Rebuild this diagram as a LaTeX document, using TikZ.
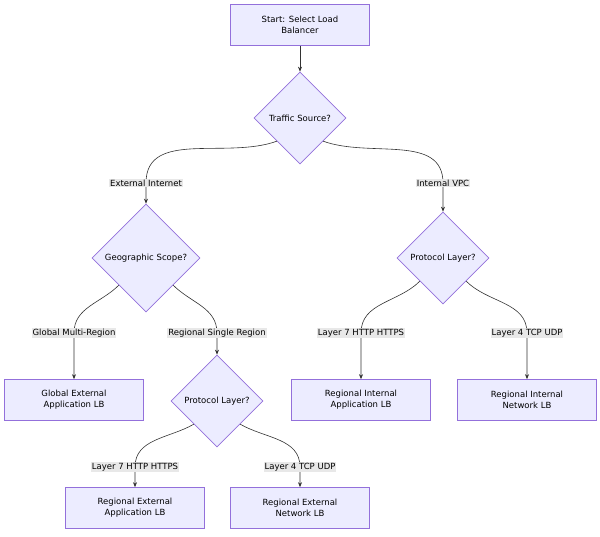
\documentclass[tikz,border=0pt]{standalone}
\usepackage{fontspec}
\setmainfont{DejaVu Sans}
\usetikzlibrary{shapes.geometric,arrows.meta}
\definecolor{boxfill}{HTML}{ECECFF}
\definecolor{boxline}{HTML}{9370DB}
\definecolor{edgeline}{HTML}{333333}
\definecolor{lblfill}{HTML}{E8E8E8}

\tikzset{
  box/.style   ={rectangle, fill=boxfill, draw=boxline, line width=0.7pt, minimum width=139pt, minimum height=41pt, align=center, inner sep=2pt},
  choice/.style={diamond, fill=boxfill, draw=boxline, line width=0.7pt, inner sep=0pt, minimum size=#1},
  edge/.style  ={-{Stealth[length=5pt,width=4pt]}, draw=edgeline, line width=0.6pt},
  lbl/.style   ={fill=lblfill, inner sep=1pt}
}

\begin{document}
\begin{tikzpicture}[x=1pt, y=-1pt, every node/.style={font=\fontsize{8.5}{11}\selectfont}]
    \useasboundingbox (0,0) rectangle (600,536);

    % top of the tree
    \node[box] (start) at (300,25) {Start: Select Load\\Balancer};
    \node[choice=92pt, label=center:{Traffic Source?}] (ts) at (300,118) {};

    % external branch
    \node[choice=108pt, label=center:{Geographic Scope?}] (gs) at (146,258) {};
    \node[box] (gle) at (74,400) {Global External\\Application LB};
    \node[choice=92pt, label=center:{Protocol Layer?}] (pm) at (217,401) {};
    \node[box] (rea) at (135,508) {Regional External\\Application LB};
    \node[box] (ren) at (300,508) {Regional External\\Network LB};

    % internal branch
    \node[choice=92pt, label=center:{Protocol Layer?}] (pr) at (443,258) {};
    \node[box] (ria) at (361,400) {Regional Internal\\Application LB};
    \node[box] (rin) at (527,400) {Regional Internal\\Network LB};

    % connectors
    \draw[edge] (start) -- (ts);
    \draw[edge] (ts.south west) to[out=200,in=90] (146,183) -- (gs.north);
    \draw[edge] (ts.south east) to[out=-20,in=90] (443,183) -- (pr.north);
    \draw[edge] (gs.south west) to[out=225,in=90] (74,333) -- (gle.north);
    \draw[edge] (gs.south east) to[out=-45,in=90] (217,333) -- (pm.north);
    \draw[edge] (pr.south west) to[out=225,in=90] (361,333) -- (ria.north);
    \draw[edge] (pr.south east) to[out=-45,in=90] (527,333) -- (rin.north);
    \draw[edge] (pm.south west) to[out=210,in=90] (135,467) -- (rea.north);
    \draw[edge] (pm.south east) to[out=-30,in=90] (300,467) -- (ren.north);

    % connector labels
    \node[lbl] (l1) at (146,183) {External Internet};
    \node[lbl] (l2) at (443,183) {Internal VPC};
    \node[lbl] (l3) at (74,333) {Global Multi-Region};
    \node[lbl] (l4) at (217,333) {Regional Single Region};
    \node[lbl] (l5) at (361,333) {Layer 7 HTTP HTTPS};
    \node[lbl] (l6) at (527,333) {Layer 4 TCP UDP};
    \node[lbl] (l7) at (135,467) {Layer 7 HTTP HTTPS};
    \node[lbl] (l8) at (300,467) {Layer 4 TCP UDP};
\end{tikzpicture}
\end{document}
